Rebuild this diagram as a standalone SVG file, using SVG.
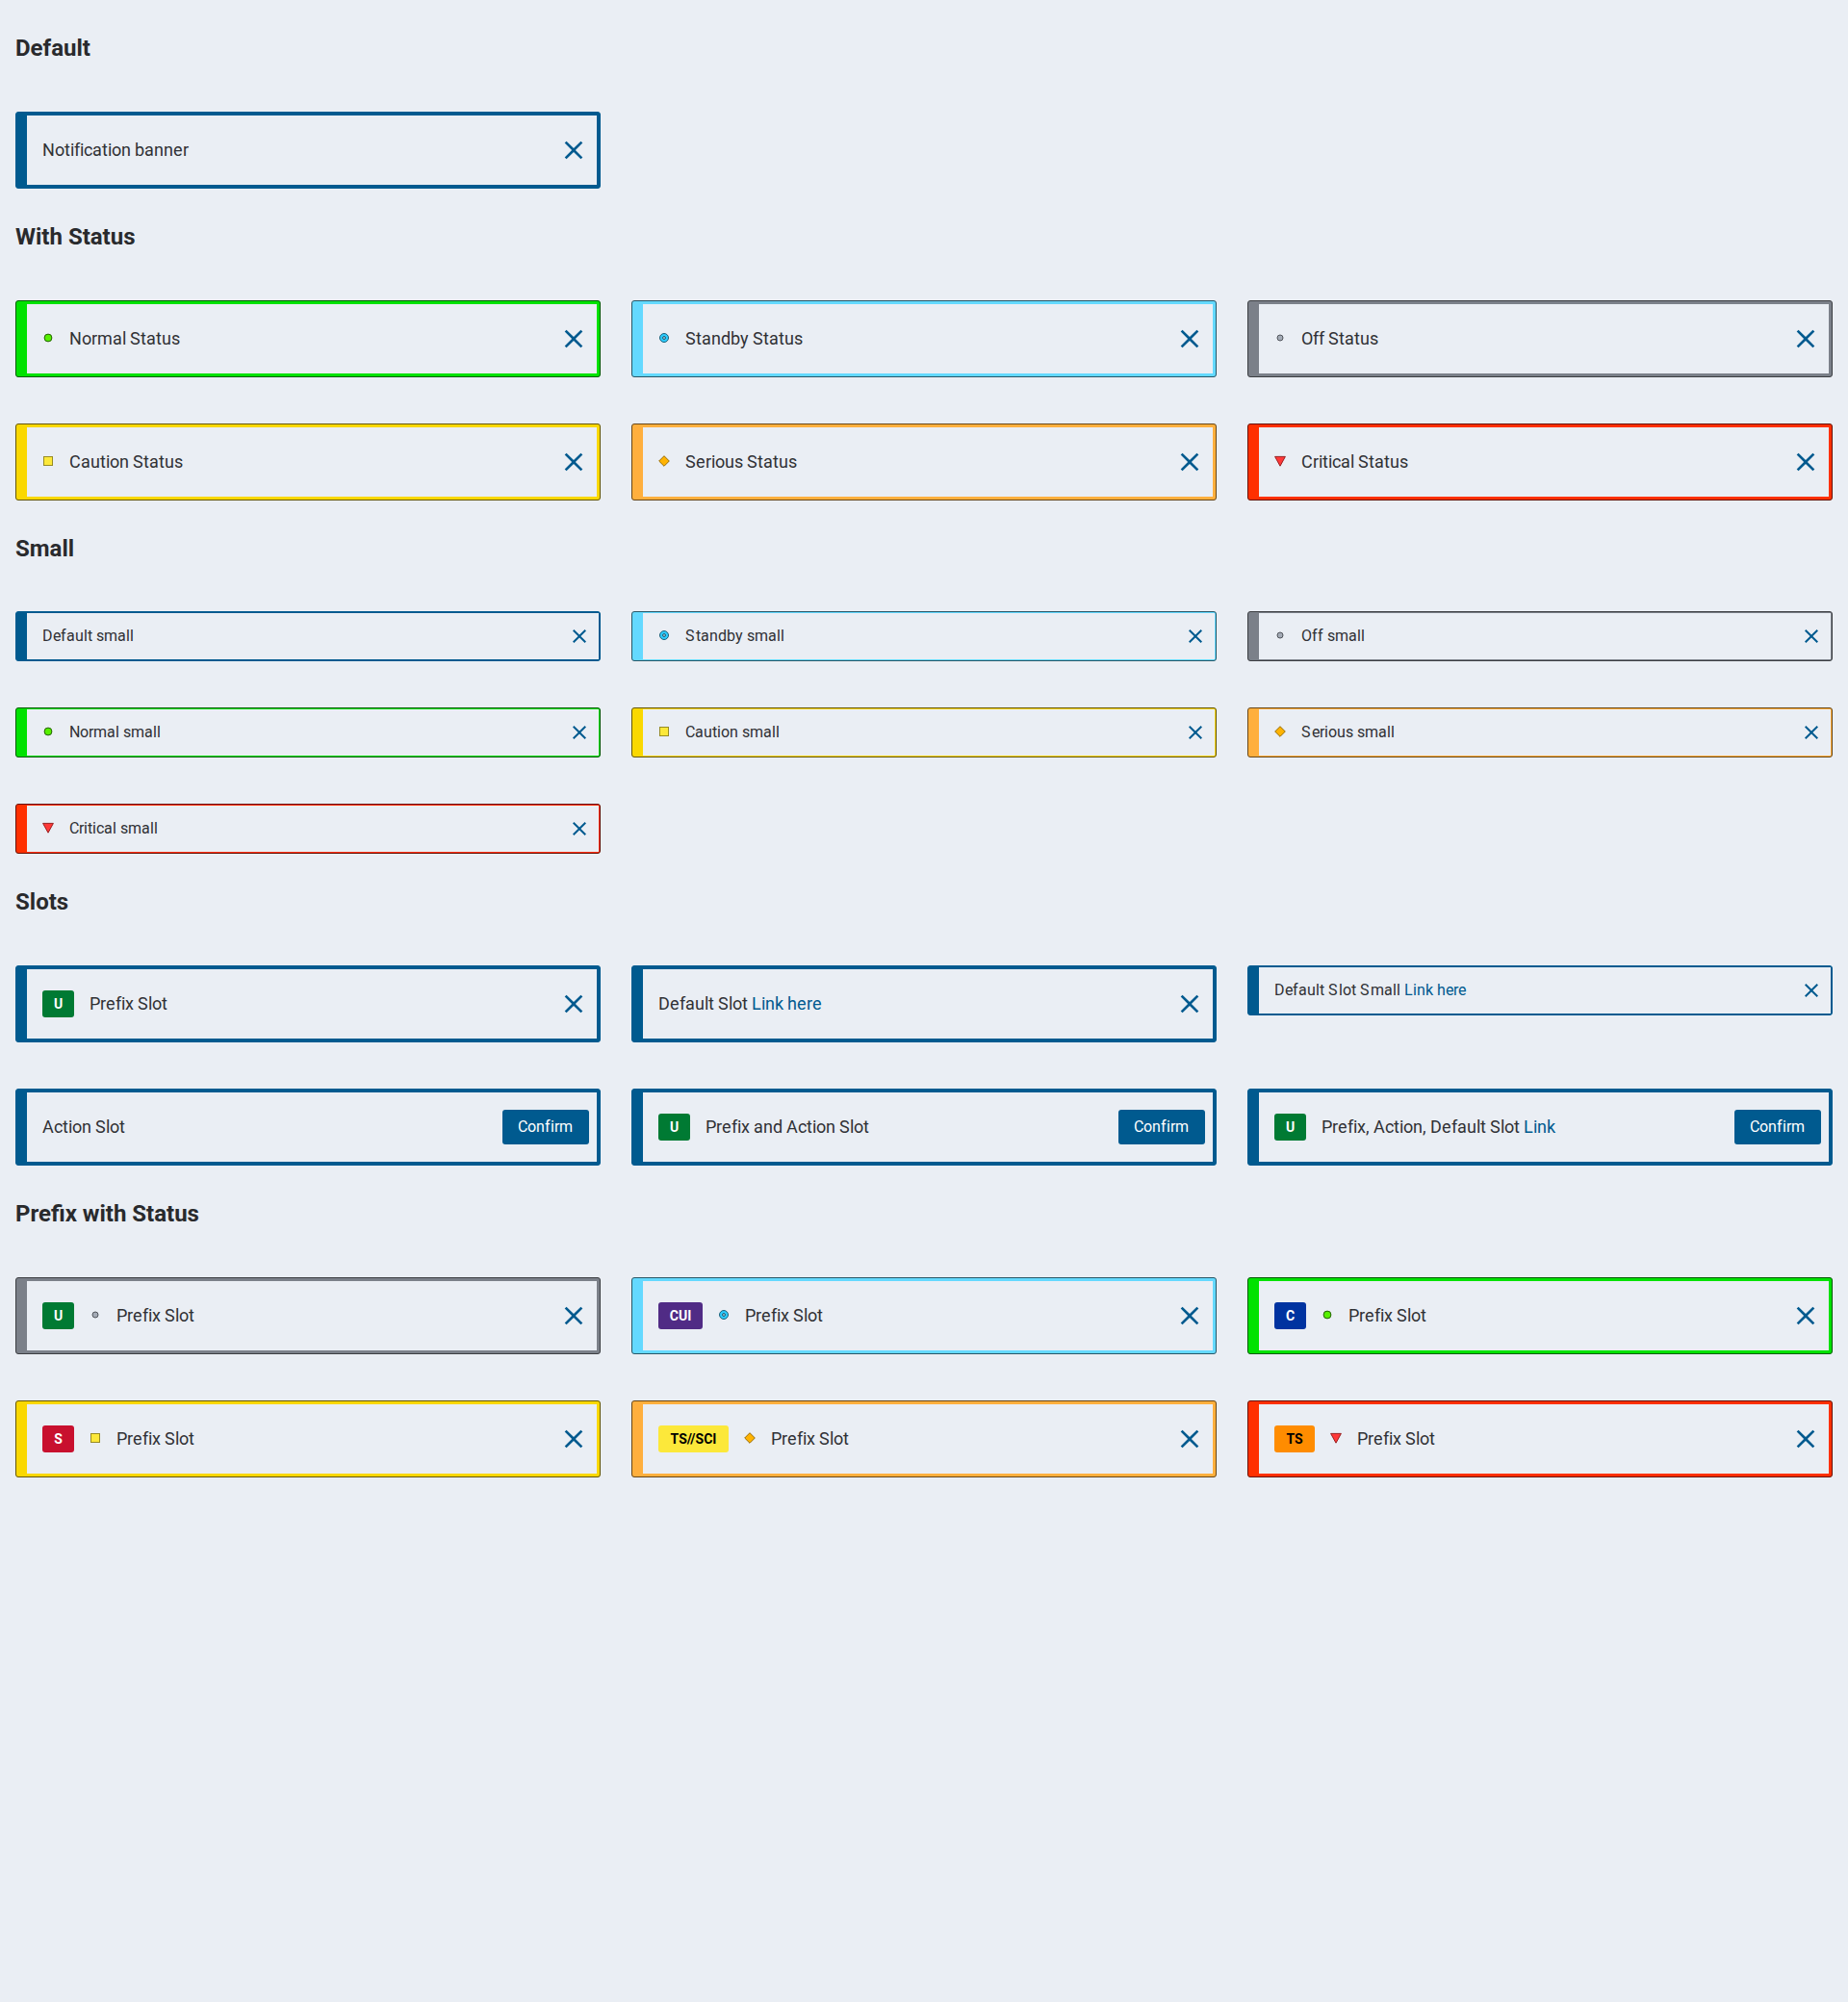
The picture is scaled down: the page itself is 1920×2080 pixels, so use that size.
<svg xmlns="http://www.w3.org/2000/svg" width="1920" height="2080" viewBox="0 0 1920 2080">
<style>
text{font-family:Roboto,"Liberation Sans",sans-serif;fill:#303135}
.h{font-size:24px;font-weight:700;fill:#292a2d}
.t{font-size:18px}
.s{font-size:16px}
.tag{font-size:14px;font-weight:700;text-anchor:middle;fill:#fff}
.dk{fill:#000}
.btn{font-size:16px;fill:#fff}
.link{fill:#005a8f}
.in{fill:#eaeef4}
.x{fill:#005a8f}
.pri{fill:#005a8f;stroke:#005a8f}
.normal{fill:#00e200;stroke:#005a00}
.standby{fill:#64d9ff;stroke:#285766}
.off{fill:#7b8089;stroke:#3c3e42}
.caution{fill:#fad800;stroke:#645600}
.serious{fill:#ffaf3d;stroke:#664618}
.critical{fill:#ff3000;stroke:#661102}
</style>
<defs>
<path id="x" d="M7-5.59 5.59-7 0-1.41-5.59-7-7-5.59-1.41 0-7 5.59-5.59 7 0 1.41 5.59 7 7 5.59 1.41 0z"/>
<circle id="st-normal" r="3.9" fill="#56f000" stroke="#226000" stroke-width="1"/>
<g id="st-standby"><circle r="4.5" fill="#2dccff" stroke="#1b5f78" stroke-width="1"/><circle r="1.5" fill="#a9c4d2" stroke="#1b5f78" stroke-width="1"/></g>
<circle id="st-off" r="3" fill="#a4abb6" stroke="#4f535a" stroke-width="1"/>
<rect id="st-caution" x="-4.5" y="-4.5" width="9" height="9" fill="#fce83a" stroke="#978b23" stroke-width="1"/>
<path id="st-serious" d="M0-5.3 5.3 0 0 5.3-5.3 0z" fill="#ffb302" stroke="#996b01" stroke-width="1" stroke-linejoin="round"/>
<path id="st-critical" d="M-5.4-4.6H5.4L0 5.2z" fill="#ff3838" stroke="#991f1f" stroke-width="1" stroke-linejoin="round"/>
</defs>
<rect id="page" width="1920" height="2080" fill="#eaeef4"/>

<g id="headings">
<text class="h" x="16" y="58">Default</text>
<text class="h" x="16" y="254">With Status</text>
<text class="h" x="16" y="578">Small</text>
<text class="h" x="16" y="945">Slots</text>
<text class="h" x="16" y="1269">Prefix with Status</text>
</g>

<g id="banner-default" transform="translate(16 116)"><rect class="pri" x=".5" y=".5" width="607" height="79" rx="2.5"/><rect class="in" x="12" y="4" width="592" height="72"/><text class="t" x="28 41 51 57 61 67 71 80 90 96 100 110 120 124 134 144 154 164 174" y="46">Notification banner</text><use class="x" href="#x" transform="translate(580 40) scale(1.333)"/></g>

<g id="banner-normal" transform="translate(16 312)"><rect class="normal" x=".5" y=".5" width="607" height="79" rx="2.5"/><rect class="in" x="12" y="4" width="592" height="72"/><use href="#st-normal" x="34" y="39"/><text class="t" x="56 69 79 85 101 111 115 119 130 136 146 152 162" y="46">Normal Status</text><use class="x" href="#x" transform="translate(580 40) scale(1.333)"/></g>
<g id="banner-standby" transform="translate(656 312)"><rect class="standby" x=".5" y=".5" width="607" height="79" rx="2.5"/><rect class="in" x="12" y="4" width="592" height="72"/><use href="#st-standby" x="34" y="39"/><text class="t" x="56 67 73 83 93 103 113 122 126 137 143 153 159 169" y="46">Standby Status</text><use class="x" href="#x" transform="translate(580 40) scale(1.333)"/></g>
<g id="banner-off" transform="translate(1296 312)"><rect class="off" x=".5" y=".5" width="607" height="79" rx="2.5"/><rect class="in" x="12" y="4" width="592" height="72"/><use href="#st-off" x="34" y="39"/><text class="t" x="56 68 74 80 84 95 101 111 117 127" y="46">Off Status</text><use class="x" href="#x" transform="translate(580 40) scale(1.333)"/></g>
<g id="banner-caution" transform="translate(16 440)"><rect class="caution" x=".5" y=".5" width="607" height="79" rx="2.5"/><rect class="in" x="12" y="4" width="592" height="72"/><use href="#st-caution" x="34" y="39"/><text class="t" x="56 68 78 88 94 98 108 118 122 133 139 149 155 165" y="46">Caution Status</text><use class="x" href="#x" transform="translate(580 40) scale(1.333)"/></g>
<g id="banner-serious" transform="translate(656 440)"><rect class="serious" x=".5" y=".5" width="607" height="79" rx="2.5"/><rect class="in" x="12" y="4" width="592" height="72"/><use href="#st-serious" x="34" y="39"/><text class="t" x="56 67 77 83 87 97 107 116 120 131 137 147 153 163" y="46">Serious Status</text><use class="x" href="#x" transform="translate(580 40) scale(1.333)"/></g>
<g id="banner-critical" transform="translate(1296 440)"><rect class="critical" x=".5" y=".5" width="607" height="79" rx="2.5"/><rect class="in" x="12" y="4" width="592" height="72"/><use href="#st-critical" x="34" y="39"/><text class="t" x="56 68 74 78 84 88 97 107 111 115 126 132 142 148 158" y="46">Critical Status</text><use class="x" href="#x" transform="translate(580 40) scale(1.333)"/></g>

<g id="small-default" transform="translate(16 635)"><rect class="pri" x=".5" y=".5" width="607" height="51" rx="2.5"/><rect class="in" x="12" y="2" width="594" height="48"/><text class="s" x="28 39 47 53 62 71 75 80 84 92 106 115 119" y="31">Default small</text><use class="x" href="#x" transform="translate(586 26)"/></g>
<g id="small-standby" transform="translate(656 635)"><rect class="standby" x=".5" y=".5" width="607" height="51" rx="2.5"/><rect class="in" x="12" y="2" width="594" height="48"/><use href="#st-standby" x="34" y="25"/><text class="s" x="56 67 72 81 90 99 108 116 120 128 142 151 155" y="31">Standby small</text><use class="x" href="#x" transform="translate(586 26)"/></g>
<g id="small-off" transform="translate(1296 635)"><rect class="off" x=".5" y=".5" width="607" height="51" rx="2.5"/><rect class="in" x="12" y="2" width="594" height="48"/><use href="#st-off" x="34" y="25"/><text class="s" x="56 67 73 79 83 91 105 114 118" y="31">Off small</text><use class="x" href="#x" transform="translate(586 26)"/></g>
<g id="small-normal" transform="translate(16 735)"><rect class="normal" x=".5" y=".5" width="607" height="51" rx="2.5"/><rect class="in" x="12" y="2" width="594" height="48"/><use href="#st-normal" x="34" y="25"/><text class="s" x="56 67 76 81 95 104 108 112 120 134 143 147" y="31">Normal small</text><use class="x" href="#x" transform="translate(586 26)"/></g>
<g id="small-caution" transform="translate(656 735)"><rect class="caution" x=".5" y=".5" width="607" height="51" rx="2.5"/><rect class="in" x="12" y="2" width="594" height="48"/><use href="#st-caution" x="34" y="25"/><text class="s" x="56 66 75 84 89 93 102 111 115 123 137 146 150" y="31">Caution small</text><use class="x" href="#x" transform="translate(586 26)"/></g>
<g id="small-serious" transform="translate(1296 735)"><rect class="serious" x=".5" y=".5" width="607" height="51" rx="2.5"/><rect class="in" x="12" y="2" width="594" height="48"/><use href="#st-serious" x="34" y="25"/><text class="s" x="56 67 75 80 84 93 102 110 114 122 136 145 149" y="31">Serious small</text><use class="x" href="#x" transform="translate(586 26)"/></g>
<g id="small-critical" transform="translate(16 835)"><rect class="critical" x=".5" y=".5" width="607" height="51" rx="2.5"/><rect class="in" x="12" y="2" width="594" height="48"/><use href="#st-critical" x="34" y="25"/><text class="s" x="56 66 71 75 80 84 92 101 105 109 117 131 140 144" y="31">Critical small</text><use class="x" href="#x" transform="translate(586 26)"/></g>

<g id="slot-prefix" transform="translate(16 1003)"><rect class="pri" x=".5" y=".5" width="607" height="79" rx="2.5"/><rect class="in" x="12" y="4" width="592" height="72"/><rect x="28" y="26" width="33" height="28" rx="3" fill="#007a33"/><text class="tag" x="44.5" y="45">U</text><text class="t" x="77 88 94 104 110 114 123 127 138 142 152" y="46">Prefix Slot</text><use class="x" href="#x" transform="translate(580 40) scale(1.333)"/></g>
<g id="slot-default" transform="translate(656 1003)"><rect class="pri" x=".5" y=".5" width="607" height="79" rx="2.5"/><rect class="in" x="12" y="4" width="592" height="72"/><text class="t" x="28 40 50 56 66 76 80 86 90 101 105 115 121" y="46">Default Slot <tspan class="link" x="125 135 139 149 158 162 172 182 188">Link here</tspan></text><use class="x" href="#x" transform="translate(580 40) scale(1.333)"/></g>
<g id="slot-default-small" transform="translate(1296 1003)"><rect class="pri" x=".5" y=".5" width="607" height="51" rx="2.5"/><rect class="in" x="12" y="2" width="594" height="48"/><text class="s" x="28 39 47 53 62 71 75 80 84 95 99 108 113 117 128 142 151 155 159" y="31">Default Slot Small <tspan class="link" x="163 172 176 185 193 197 206 214 219">Link here</tspan></text><use class="x" href="#x" transform="translate(586 26)"/></g>
<g id="slot-action" transform="translate(16 1131)"><rect class="pri" x=".5" y=".5" width="607" height="79" rx="2.5"/><rect class="in" x="12" y="4" width="592" height="72"/><text class="t" x="28 40 49 55 59 69 79 83 94 98 108" y="46">Action Slot</text><rect x="506" y="22" width="90" height="36" rx="3" fill="#005a8f"/><text class="btn" x="522 532 541 550 556 560 565" y="45">Confirm</text></g>
<g id="slot-prefix-action" transform="translate(656 1131)"><rect class="pri" x=".5" y=".5" width="607" height="79" rx="2.5"/><rect class="in" x="12" y="4" width="592" height="72"/><rect x="28" y="26" width="33" height="28" rx="3" fill="#007a33"/><text class="tag" x="44.5" y="45">U</text><text class="t" x="77 88 94 104 110 114 123 127 137 147 157 161 173 182 188 192 202 212 216 227 231 241" y="46">Prefix and Action Slot</text><rect x="506" y="22" width="90" height="36" rx="3" fill="#005a8f"/><text class="btn" x="522 532 541 550 556 560 565" y="45">Confirm</text></g>
<g id="slot-prefix-action-default" transform="translate(1296 1131)"><rect class="pri" x=".5" y=".5" width="607" height="79" rx="2.5"/><rect class="in" x="12" y="4" width="592" height="72"/><rect x="28" y="26" width="33" height="28" rx="3" fill="#007a33"/><text class="tag" x="44.5" y="45">U</text><text class="t" x="77 88 94 104 110 114 123 127 131 143 152 158 162 172 182 186 190 202 212 218 228 238 242 248 252 263 267 277 283" y="46">Prefix, Action, Default Slot <tspan class="link" x="287 297 301 311">Link</tspan></text><rect x="506" y="22" width="90" height="36" rx="3" fill="#005a8f"/><text class="btn" x="522 532 541 550 556 560 565" y="45">Confirm</text></g>

<g id="prefix-off" transform="translate(16 1327)"><rect class="off" x=".5" y=".5" width="607" height="79" rx="2.5"/><rect class="in" x="12" y="4" width="592" height="72"/><rect x="28" y="26" width="33" height="28" rx="3" fill="#007a33"/><text class="tag" x="44.5" y="45">U</text><use href="#st-off" x="83" y="39"/><text class="t" x="105 116 122 132 138 142 151 155 166 170 180" y="46">Prefix Slot</text><use class="x" href="#x" transform="translate(580 40) scale(1.333)"/></g>
<g id="prefix-standby" transform="translate(656 1327)"><rect class="standby" x=".5" y=".5" width="607" height="79" rx="2.5"/><rect class="in" x="12" y="4" width="592" height="72"/><rect x="28" y="26" width="46" height="28" rx="3" fill="#502b85"/><text class="tag" x="51" y="45">CUI</text><use href="#st-standby" x="96" y="39"/><text class="t" x="118 129 135 145 151 155 164 168 179 183 193" y="46">Prefix Slot</text><use class="x" href="#x" transform="translate(580 40) scale(1.333)"/></g>
<g id="prefix-normal" transform="translate(1296 1327)"><rect class="normal" x=".5" y=".5" width="607" height="79" rx="2.5"/><rect class="in" x="12" y="4" width="592" height="72"/><rect x="28" y="26" width="33" height="28" rx="3" fill="#0033a0"/><text class="tag" x="44.5" y="45">C</text><use href="#st-normal" x="83" y="39"/><text class="t" x="105 116 122 132 138 142 151 155 166 170 180" y="46">Prefix Slot</text><use class="x" href="#x" transform="translate(580 40) scale(1.333)"/></g>
<g id="prefix-caution" transform="translate(16 1455)"><rect class="caution" x=".5" y=".5" width="607" height="79" rx="2.5"/><rect class="in" x="12" y="4" width="592" height="72"/><rect x="28" y="26" width="33" height="28" rx="3" fill="#c8102e"/><text class="tag" x="44.5" y="45">S</text><use href="#st-caution" x="83" y="39"/><text class="t" x="105 116 122 132 138 142 151 155 166 170 180" y="46">Prefix Slot</text><use class="x" href="#x" transform="translate(580 40) scale(1.333)"/></g>
<g id="prefix-serious" transform="translate(656 1455)"><rect class="serious" x=".5" y=".5" width="607" height="79" rx="2.5"/><rect class="in" x="12" y="4" width="592" height="72"/><rect x="28" y="26" width="73" height="28" rx="3" fill="#fce83a"/><text class="tag dk" x="64.5" y="45">TS//SCI</text><use href="#st-serious" x="123" y="39"/><text class="t" x="145 156 162 172 178 182 191 195 206 210 220" y="46">Prefix Slot</text><use class="x" href="#x" transform="translate(580 40) scale(1.333)"/></g>
<g id="prefix-critical" transform="translate(1296 1455)"><rect class="critical" x=".5" y=".5" width="607" height="79" rx="2.5"/><rect class="in" x="12" y="4" width="592" height="72"/><rect x="28" y="26" width="42" height="28" rx="3" fill="#ff8c00"/><text class="tag dk" x="49" y="45">TS</text><use href="#st-critical" x="92" y="39"/><text class="t" x="114 125 131 141 147 151 160 164 175 179 189" y="46">Prefix Slot</text><use class="x" href="#x" transform="translate(580 40) scale(1.333)"/></g>
</svg>
